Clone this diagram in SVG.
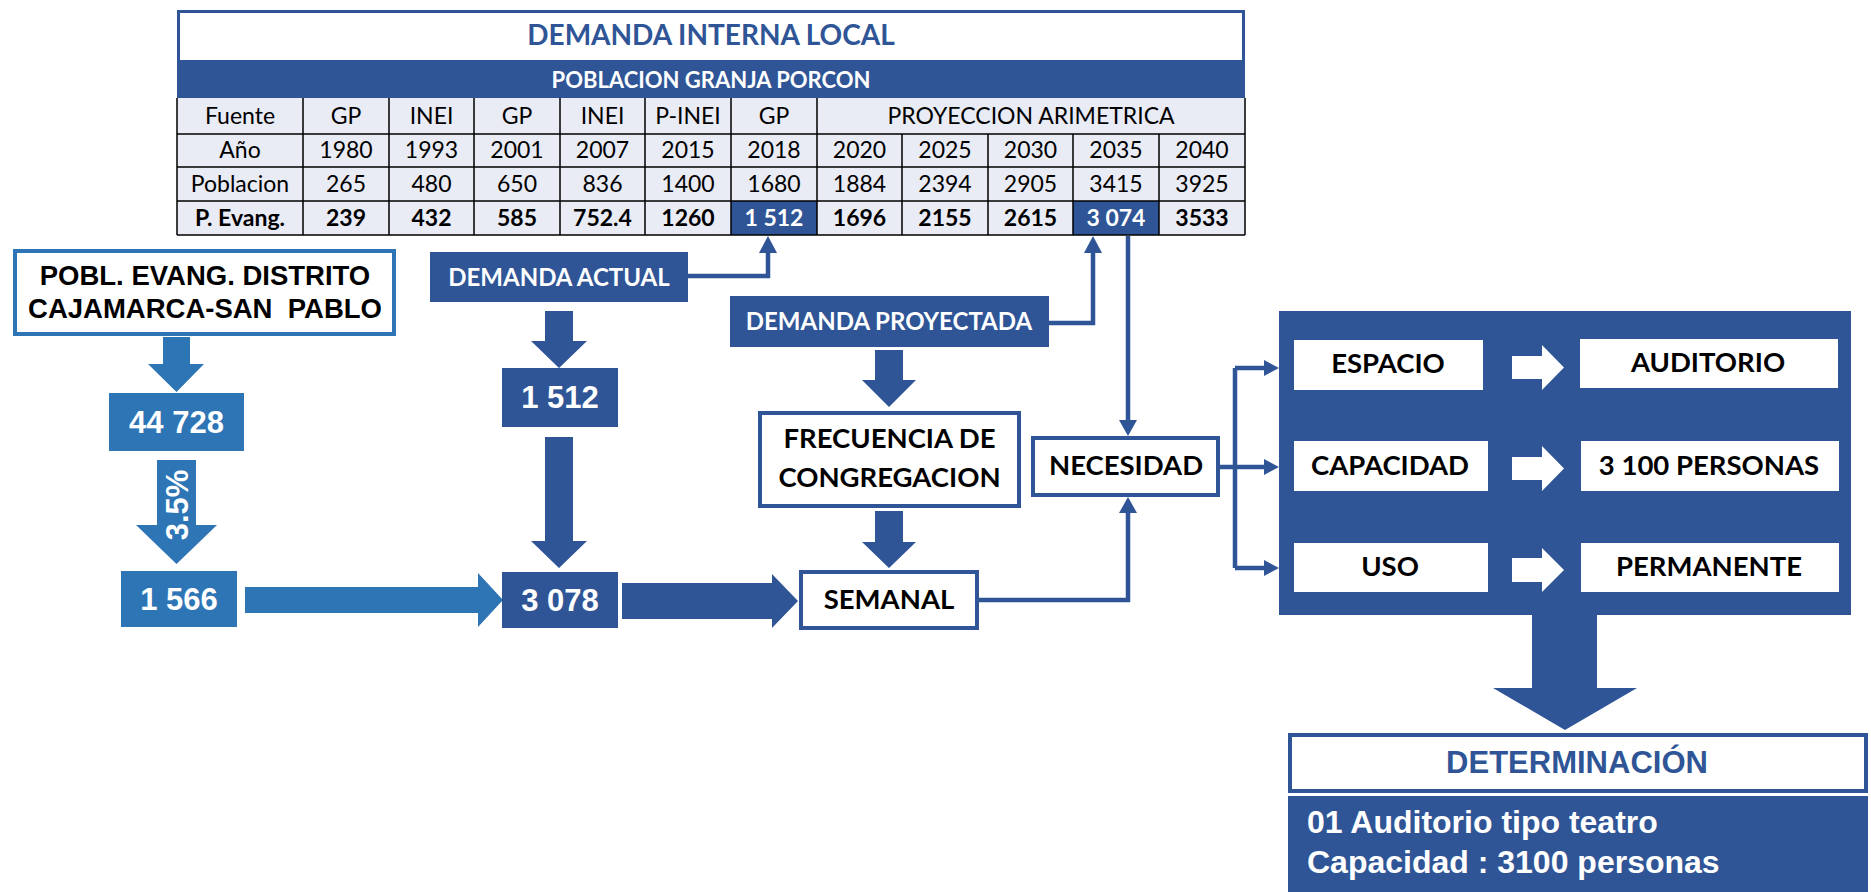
<svg xmlns="http://www.w3.org/2000/svg" width="1871" height="892" viewBox="0 0 1871 892">
<style>
.dk{fill:#2F5597}
.lt{fill:#2E75B6}
.wb{fill:#fff;stroke:#2F5597;stroke-width:4}
.wh{fill:#fff}
.cal{font-family:Lato,"Open Sans",sans-serif}
.ar{font-family:"Liberation Sans",Arial,sans-serif;font-weight:bold}
.tc{font-family:Lato,"Open Sans",sans-serif;font-size:23px;fill:#000;text-anchor:middle}
.b{font-weight:bold}
.num{font-family:"Liberation Sans",Arial,sans-serif;font-weight:bold;font-size:31px;fill:#fff;text-anchor:middle}
.lbl{font-family:Lato,"Open Sans",sans-serif;font-weight:bold;font-size:27.5px;fill:#000;text-anchor:middle}
.wl{font-family:Lato,"Open Sans",sans-serif;font-weight:bold;font-size:24px;fill:#fff;text-anchor:middle}
.grid{stroke:#000;stroke-width:1.5;fill:none}
.ln{stroke:#2F5597;stroke-width:4.5;fill:none}
</style>
<rect width="1871" height="892" fill="#fff"/>

<g id="table">
  <rect x="177" y="98" width="1068" height="137" fill="#E9EBF5"/>
  <rect x="731" y="201" width="86" height="34" class="dk"/>
  <rect x="1073" y="201" width="86" height="34" class="dk"/>
  <rect x="177" y="62" width="1068" height="36" class="dk"/>
  <rect x="178.5" y="11.5" width="1065" height="50" fill="#fff" stroke="#2F5597" stroke-width="3"/>
  <text x="711" y="45" class="cal b" font-size="28" fill="#2F5597" text-anchor="middle">DEMANDA INTERNA LOCAL</text>
  <text x="711" y="88" class="cal b" font-size="22" fill="#fff" text-anchor="middle">POBLACION GRANJA PORCON</text>
  <g class="grid">
    <path d="M177 98V235M1245 98V235M177 134H1245M177 167H1245M177 201H1245M177 235H1245"/>
    <path d="M303 98V235M389 98V235M474 98V235M560 98V235M645 98V235M731 98V235M817 98V235"/>
    <path d="M902 134V235M988 134V235M1073 134V235M1159 134V235"/>
  </g>
  <g class="tc">
    <text x="240" y="124">Fuente</text><text x="346" y="124">GP</text><text x="431.5" y="124">INEI</text><text x="517" y="124">GP</text><text x="602.5" y="124">INEI</text><text x="688" y="124">P-INEI</text><text x="774" y="124">GP</text><text x="1031" y="124">PROYECCION ARIMETRICA</text>
    <text x="240" y="158">Año</text><text x="346" y="158">1980</text><text x="431.5" y="158">1993</text><text x="517" y="158">2001</text><text x="602.5" y="158">2007</text><text x="688" y="158">2015</text><text x="774" y="158">2018</text><text x="859.5" y="158">2020</text><text x="945" y="158">2025</text><text x="1030.5" y="158">2030</text><text x="1116" y="158">2035</text><text x="1202" y="158">2040</text>
    <text x="240" y="192">Poblacion</text><text x="346" y="192">265</text><text x="431.5" y="192">480</text><text x="517" y="192">650</text><text x="602.5" y="192">836</text><text x="688" y="192">1400</text><text x="774" y="192">1680</text><text x="859.5" y="192">1884</text><text x="945" y="192">2394</text><text x="1030.5" y="192">2905</text><text x="1116" y="192">3415</text><text x="1202" y="192">3925</text>
    <g font-weight="bold">
    <text x="240" y="226">P. Evang.</text><text x="346" y="226">239</text><text x="431.5" y="226">432</text><text x="517" y="226">585</text><text x="602.5" y="226">752.4</text><text x="688" y="226">1260</text><text x="774" y="226" fill="#fff">1 512</text><text x="859.5" y="226">1696</text><text x="945" y="226">2155</text><text x="1030.5" y="226">2615</text><text x="1116" y="226" fill="#fff">3 074</text><text x="1202" y="226">3533</text>
    </g>
  </g>
</g>

<g id="connectors">
  <polygon class="lt" points="163,337 190,337 190,364 204,364 176.5,392 148,364 163,364"/>
  <polygon class="lt" points="157,460 196,460 196,525 217,525 176.5,564 136,525 157,525"/>
  <polygon class="lt" points="245,587 478,587 478,573 503,600 478,627 478,613 245,613"/>
  <polygon class="dk" points="545,311 573,311 573,341 587,341 559,368 531,341 545,341"/>
  <polygon class="dk" points="545,437 573,437 573,541 587,541 559,568 531,541 545,541"/>
  <polygon class="dk" points="622,583 772,583 772,574 798,601 772,628 772,619 622,619"/>
  <polygon class="dk" points="875,350 903,350 903,380 916,380 889,407 862,380 875,380"/>
  <polygon class="dk" points="875,511 903,511 903,542 916,542 889,568 862,542 875,542"/>
  <polygon class="dk" points="1532,614 1597,614 1597,688 1637,688 1565,730 1493,688 1532,688"/>
  <path class="ln" d="M687 276H768V250"/>
  <polygon class="dk" points="759,253 777,253 768,236"/>
  <path class="ln" d="M1049 323H1093V250"/>
  <polygon class="dk" points="1084,253 1102,253 1093,236"/>
  <path class="ln" d="M1128 236V423"/>
  <polygon class="dk" points="1119,420 1137,420 1128,436"/>
  <path class="ln" d="M979 600H1128V512"/>
  <polygon class="dk" points="1119,513 1137,513 1128,497"/>
  <path class="ln" d="M1220 467H1235M1235 368V568M1235 368H1266M1235 467H1266M1235 568H1266"/>
  <polygon class="dk" points="1264,360 1279,368 1264,376"/>
  <polygon class="dk" points="1264,459 1279,467 1264,475"/>
  <polygon class="dk" points="1264,560 1279,568 1264,576"/>
</g>

<g id="pobl">
  <rect x="15" y="251" width="379" height="83" fill="#fff" stroke="#2E75B6" stroke-width="4"/>
  <text x="205" y="285" class="ar" font-size="27.5" fill="#000" text-anchor="middle">POBL. EVANG. DISTRITO</text>
  <text x="205" y="318" class="ar" font-size="27.5" fill="#000" text-anchor="middle" xml:space="preserve">CAJAMARCA-SAN  PABLO</text>
</g>
<g id="n44728"><rect x="109" y="393" width="135" height="58" class="lt"/><text x="176.5" y="433" class="num">44 728</text></g>
<g id="pct"><text transform="translate(188,505) rotate(-90)" class="num">3.5%</text></g>
<g id="n1566"><rect x="121" y="571" width="116" height="56" class="lt"/><text x="179" y="610" class="num">1 566</text></g>
<g id="dactual"><rect x="430" y="252" width="258" height="50" class="dk"/><text x="559" y="286" class="wl">DEMANDA ACTUAL</text></g>
<g id="n1512"><rect x="502" y="368" width="116" height="59" class="dk"/><text x="560" y="408" class="num">1 512</text></g>
<g id="n3078"><rect x="502" y="572" width="116" height="56" class="dk"/><text x="560" y="611" class="num">3 078</text></g>
<g id="dproy"><rect x="730" y="296" width="319" height="51" class="dk"/><text x="889" y="330" class="wl">DEMANDA PROYECTADA</text></g>
<g id="frec"><rect x="760" y="413" width="259" height="93" class="wb"/><text x="889.5" y="448" class="lbl">FRECUENCIA DE</text><text x="889.5" y="487" class="lbl">CONGREGACION</text></g>
<g id="semanal"><rect x="801" y="572" width="176" height="56" class="wb"/><text x="889" y="609" class="lbl">SEMANAL</text></g>
<g id="necesidad"><rect x="1033" y="438" width="185" height="57" class="wb"/><text x="1126" y="475" class="lbl">NECESIDAD</text></g>

<g id="panel">
  <rect x="1279" y="311" width="572" height="304" class="dk"/>
  <g id="espacio"><rect x="1294" y="340" width="189" height="50" class="wh"/><text x="1388" y="373" class="lbl">ESPACIO</text></g>
  <g id="capacidad"><rect x="1294" y="441" width="194" height="50" class="wh"/><text x="1390" y="475" class="lbl">CAPACIDAD</text></g>
  <g id="uso"><rect x="1294" y="543" width="194" height="49" class="wh"/><text x="1390" y="576" class="lbl">USO</text></g>
  <g id="auditorio"><rect x="1580" y="339" width="258" height="49" class="wh"/><text x="1708" y="372" class="lbl">AUDITORIO</text></g>
  <g id="personas"><rect x="1581" y="441" width="258" height="50" class="wh"/><text x="1709" y="475" class="lbl">3 100 PERSONAS</text></g>
  <g id="permanente"><rect x="1581" y="543" width="258" height="49" class="wh"/><text x="1709" y="576" class="lbl">PERMANENTE</text></g>
  <polygon class="wh" points="1512,356 1542,356 1542,345 1564,367.5 1542,390 1542,379 1512,379"/>
  <polygon class="wh" points="1512,457 1542,457 1542,446 1564,468.5 1542,491 1542,480 1512,480"/>
  <polygon class="wh" points="1512,558 1542,558 1542,548 1564,570 1542,592 1542,582 1512,582"/>
</g>

<g id="determinacion">
  <rect x="1290" y="735" width="576" height="56" fill="#fff" stroke="#2F5597" stroke-width="4"/>
  <text x="1577" y="773" class="ar" font-size="31" fill="#2F5597" text-anchor="middle">DETERMINACIÓN</text>
</g>
<g id="resultado">
  <rect x="1288" y="796" width="580" height="96" class="dk"/>
  <text x="1307" y="833" class="ar" font-size="32" fill="#fff">01 Auditorio tipo teatro</text>
  <text x="1307" y="873" class="ar" font-size="32" fill="#fff">Capacidad : 3100 personas</text>
</g>
</svg>
